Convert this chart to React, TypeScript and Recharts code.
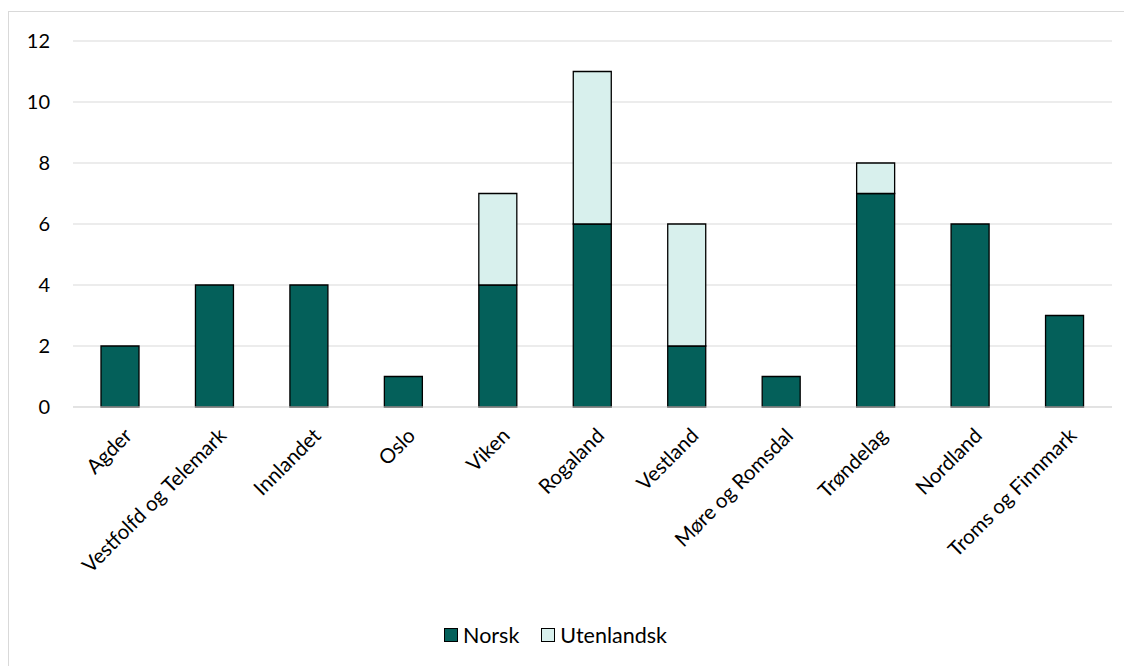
import React from 'react';
import { BarChart, Bar, XAxis, YAxis, CartesianGrid, Legend } from 'recharts';

const regioner = [
  'Agder',
  'Vestfolfd og Telemark',
  'Innlandet',
  'Oslo',
  'Viken',
  'Rogaland',
  'Vestland',
  'Møre og Romsdal',
  'Trøndelag',
  'Nordland',
  'Troms og Finnmark',
];
const norsk = [2, 4, 4, 1, 4, 6, 2, 1, 7, 6, 3];
const utenlandsk = [0, 0, 0, 0, 3, 5, 4, 0, 1, 0, 0];
const yTicks = [0, 2, 4, 6, 8, 10, 12];

const FONT = 'Lato, "Open Sans", sans-serif';
const MORK = '#04605A';
const LYS = '#D8F0ED';

const data = regioner.map((region, i) => ({
  region,
  norsk: norsk[i],
  utenlandsk: utenlandsk[i],
}));

function RegionTick(props: any) {
  const { x, y, payload } = props;
  return (
    <g transform={`translate(${x + 13},${y + 22})`}>
      <text
        x={0}
        y={0}
        textAnchor="end"
        transform="rotate(-45)"
        fill="#000"
        fontSize={20.5}
        fontFamily={FONT}
      >
        {payload.value}
      </text>
    </g>
  );
}

function Forklaring() {
  const items = [
    { navn: 'Norsk', farge: MORK },
    { navn: 'Utenlandsk', farge: LYS },
  ];
  return (
    <div
      style={{
        display: 'flex',
        justifyContent: 'center',
        gap: 22,
        height: 24,
        marginLeft: -10,
        fontFamily: FONT,
        fontSize: 21.5,
        lineHeight: '24px',
      }}
    >
      {items.map((it) => (
        <div key={it.navn} style={{ display: 'flex', alignItems: 'center', gap: 5 }}>
          <span
            style={{
              display: 'inline-block',
              width: 12,
              height: 12,
              background: it.farge,
              border: '1px solid #000',
            }}
          />
          <span>{it.navn}</span>
        </div>
      ))}
    </div>
  );
}

export default function App() {
  return (
    <div
      style={{
        marginTop: 3,
        width: 1130,
        height: 660,
        border: '1px solid #d9d9d9',
        boxSizing: 'border-box',
        background: '#fff',
      }}
    >
      <BarChart
        width={1128}
        height={658}
        data={data}
        margin={{ top: 29, right: 25, left: 0, bottom: 23 }}
        barSize={38}
      >
        <CartesianGrid vertical={false} stroke="#d9d9d9" />
        <XAxis
          dataKey="region"
          interval={0}
          tick={<RegionTick />}
          tickLine={false}
          axisLine={{ stroke: '#d9d9d9' }}
          height={216}
        />
        <YAxis
          domain={[0, 12]}
          ticks={yTicks}
          width={64}
          tickLine={false}
          axisLine={false}
          tickSize={0}
          tickMargin={23}
          tick={{ fill: '#000', fontSize: 20, fontFamily: FONT }}
        />
        <Legend verticalAlign="bottom" content={<Forklaring />} />
        <Bar dataKey="norsk" stackId="a" fill={MORK} stroke="#000" strokeWidth={1.3} isAnimationActive={false} />
        <Bar dataKey="utenlandsk" stackId="a" fill={LYS} stroke="#000" strokeWidth={1.3} isAnimationActive={false} />
      </BarChart>
    </div>
  );
}
